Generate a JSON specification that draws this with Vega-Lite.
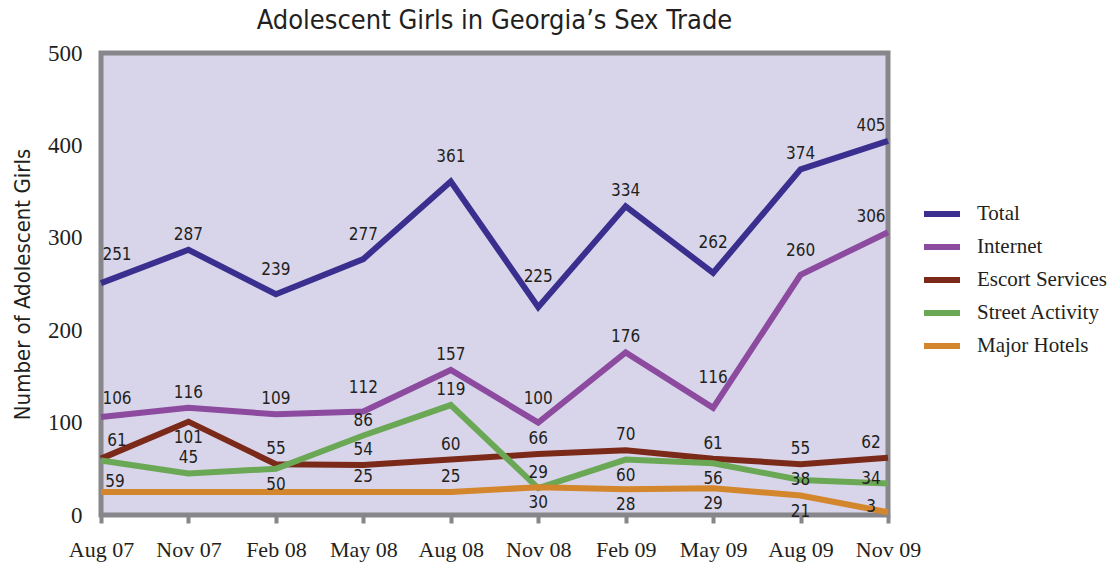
{
  "$schema": "https://vega.github.io/schema/vega-lite/v6.json",
  "width": 787,
  "height": 462,
  "autosize": {"type": "none"},
  "padding": {"left": 101, "top": 53, "right": 229, "bottom": 52},
  "background": "white",
  "title": {
    "text": "Adolescent Girls in Georgia’s Sex Trade",
    "font": "DejaVu Sans Condensed, sans-serif",
    "fontSize": 27,
    "fontWeight": "normal",
    "color": "#231f20",
    "anchor": "middle",
    "frame": "group",
    "baseline": "bottom",
    "offset": 15,
    "dy": 35
  },
  "config": {
    "view": {"fill": "#d8d5ea", "stroke": "#87868b", "strokeWidth": 5},
    "text": {"font": "DejaVu Sans Condensed, sans-serif", "fontSize": 17, "color": "#231f20", "baseline": "middle", "align": "center"}
  },
  "data": {
    "values": [
      {"month": "Aug 07", "series": "Total", "value": 251},
      {"month": "Nov 07", "series": "Total", "value": 287},
      {"month": "Feb 08", "series": "Total", "value": 239},
      {"month": "May 08", "series": "Total", "value": 277},
      {"month": "Aug 08", "series": "Total", "value": 361},
      {"month": "Nov 08", "series": "Total", "value": 225},
      {"month": "Feb 09", "series": "Total", "value": 334},
      {"month": "May 09", "series": "Total", "value": 262},
      {"month": "Aug 09", "series": "Total", "value": 374},
      {"month": "Nov 09", "series": "Total", "value": 405},
      {"month": "Aug 07", "series": "Internet", "value": 106},
      {"month": "Nov 07", "series": "Internet", "value": 116},
      {"month": "Feb 08", "series": "Internet", "value": 109},
      {"month": "May 08", "series": "Internet", "value": 112},
      {"month": "Aug 08", "series": "Internet", "value": 157},
      {"month": "Nov 08", "series": "Internet", "value": 100},
      {"month": "Feb 09", "series": "Internet", "value": 176},
      {"month": "May 09", "series": "Internet", "value": 116},
      {"month": "Aug 09", "series": "Internet", "value": 260},
      {"month": "Nov 09", "series": "Internet", "value": 306},
      {"month": "Aug 07", "series": "Escort Services", "value": 61},
      {"month": "Nov 07", "series": "Escort Services", "value": 101},
      {"month": "Feb 08", "series": "Escort Services", "value": 55},
      {"month": "May 08", "series": "Escort Services", "value": 54},
      {"month": "Aug 08", "series": "Escort Services", "value": 60},
      {"month": "Nov 08", "series": "Escort Services", "value": 66},
      {"month": "Feb 09", "series": "Escort Services", "value": 70},
      {"month": "May 09", "series": "Escort Services", "value": 61},
      {"month": "Aug 09", "series": "Escort Services", "value": 55},
      {"month": "Nov 09", "series": "Escort Services", "value": 62},
      {"month": "Aug 07", "series": "Street Activity", "value": 59},
      {"month": "Nov 07", "series": "Street Activity", "value": 45},
      {"month": "Feb 08", "series": "Street Activity", "value": 50},
      {"month": "May 08", "series": "Street Activity", "value": 86},
      {"month": "Aug 08", "series": "Street Activity", "value": 119},
      {"month": "Nov 08", "series": "Street Activity", "value": 29},
      {"month": "Feb 09", "series": "Street Activity", "value": 60},
      {"month": "May 09", "series": "Street Activity", "value": 56},
      {"month": "Aug 09", "series": "Street Activity", "value": 38},
      {"month": "Nov 09", "series": "Street Activity", "value": 34},
      {"month": "Aug 07", "series": "Major Hotels", "value": 25},
      {"month": "Nov 07", "series": "Major Hotels", "value": 25},
      {"month": "Feb 08", "series": "Major Hotels", "value": 25},
      {"month": "May 08", "series": "Major Hotels", "value": 25},
      {"month": "Aug 08", "series": "Major Hotels", "value": 25},
      {"month": "Nov 08", "series": "Major Hotels", "value": 30},
      {"month": "Feb 09", "series": "Major Hotels", "value": 28},
      {"month": "May 09", "series": "Major Hotels", "value": 29},
      {"month": "Aug 09", "series": "Major Hotels", "value": 21},
      {"month": "Nov 09", "series": "Major Hotels", "value": 3}
    ]
  },
  "encoding": {
    "x": {
      "field": "month",
      "type": "ordinal",
      "sort": ["Aug 07", "Nov 07", "Feb 08", "May 08", "Aug 08", "Nov 08", "Feb 09", "May 09", "Aug 09", "Nov 09"],
      "scale": {"type": "point", "padding": 0},
      "axis": {
        "title": null,
        "domain": false,
        "ticks": true,
        "tickColor": "#87868b",
        "tickWidth": 4,
        "tickSize": 8,
        "labelAngle": 0,
        "labelFont": "Liberation Serif, serif",
        "labelFontSize": 22,
        "labelColor": "#231f20",
        "labelPadding": 16
      }
    },
    "y": {
      "field": "value",
      "type": "quantitative",
      "scale": {"domain": [0, 500], "nice": false},
      "axis": {
        "title": "Number of Adolescent Girls",
        "titleFont": "DejaVu Sans Condensed, sans-serif",
        "titleFontSize": 22,
        "titleFontWeight": "normal",
        "titleColor": "#231f20",
        "titlePadding": 13,
        "values": [0, 100, 200, 300, 400, 500],
        "domain": false,
        "ticks": false,
        "tickSize": 0,
        "grid": false,
        "labelFont": "Liberation Serif, serif",
        "labelFontSize": 23,
        "labelColor": "#231f20",
        "labelPadding": 19
      }
    }
  },
  "layer": [
    {
      "mark": {"type": "line", "strokeWidth": 6, "strokeJoin": "miter"},
      "encoding": {
        "color": {
          "field": "series",
          "type": "nominal",
          "scale": {
            "domain": ["Total", "Internet", "Escort Services", "Street Activity", "Major Hotels"],
            "range": ["#3a2f8f", "#8c4b9f", "#7b2a1a", "#6ba856", "#d3862c"]
          },
          "legend": {
            "title": null,
            "orient": "none",
            "legendX": 820,
            "legendY": 140,
            "symbolType": "stroke",
            "symbolSize": 1296,
            "symbolStrokeWidth": 6,
            "labelFont": "Liberation Serif, serif",
            "labelFontSize": 21,
            "labelColor": "#231f20",
            "labelOffset": 14,
            "rowPadding": -4,
            "padding": 0
          }
        }
      }
    },
    {
      "transform": [{"filter": "(datum.series === 'Total' && indexof(['Nov 08', 'May 09'], datum.month) >= 0) || (datum.series === 'Internet' && datum.month === 'May 09')"}],
      "mark": {"type": "text", "dy": -30},
      "encoding": {"text": {"field": "value", "type": "quantitative"}}
    },
    {
      "transform": [{"filter": "(datum.series === 'Total' && indexof(['Feb 08', 'May 08', 'Aug 08'], datum.month) >= 0) || (datum.series === 'Internet' && indexof(['May 08', 'Nov 08', 'Aug 09'], datum.month) >= 0)"}],
      "mark": {"type": "text", "dy": -24},
      "encoding": {"text": {"field": "value", "type": "quantitative"}}
    },
    {
      "transform": [{"filter": "(datum.series === 'Total' && indexof(['Nov 07', 'Feb 09', 'Aug 09'], datum.month) >= 0) || (datum.series === 'Internet' && indexof(['Nov 07', 'Feb 08', 'Aug 08', 'Feb 09'], datum.month) >= 0) || (datum.series === 'Escort Services' && indexof(['Feb 08', 'May 08', 'Aug 08', 'Nov 08', 'Feb 09', 'May 09', 'Aug 09'], datum.month) >= 0) || (datum.series === 'Street Activity' && indexof(['Nov 07', 'May 08', 'Aug 08', 'Nov 08'], datum.month) >= 0) || (datum.series === 'Major Hotels' && indexof(['May 08', 'Aug 08'], datum.month) >= 0)"}],
      "mark": {"type": "text", "dy": -15},
      "encoding": {"text": {"field": "value", "type": "quantitative"}}
    },
    {
      "transform": [{"filter": "(datum.series === 'Escort Services' && datum.month === 'Nov 07') || (datum.series === 'Street Activity' && indexof(['Feb 08', 'Feb 09', 'May 09'], datum.month) >= 0) || (datum.series === 'Major Hotels' && indexof(['Nov 08', 'Feb 09', 'May 09', 'Aug 09'], datum.month) >= 0)"}],
      "mark": {"type": "text", "dy": 16},
      "encoding": {"text": {"field": "value", "type": "quantitative"}}
    },
    {
      "transform": [{"filter": "datum.series === 'Street Activity' && datum.month === 'Aug 09'"}],
      "mark": {"type": "text", "dy": 0},
      "encoding": {"text": {"field": "value", "type": "quantitative"}}
    },
    {
      "transform": [{"filter": "datum.month === 'Aug 07' && indexof(['Internet', 'Escort Services'], datum.series) >= 0"}],
      "mark": {"type": "text", "dx": 16, "dy": -18},
      "encoding": {"text": {"field": "value", "type": "quantitative"}}
    },
    {
      "transform": [{"filter": "datum.month === 'Aug 07' && datum.series === 'Total'"}],
      "mark": {"type": "text", "dx": 16, "dy": -28},
      "encoding": {"text": {"field": "value", "type": "quantitative"}}
    },
    {
      "transform": [{"filter": "datum.month === 'Aug 07' && datum.series === 'Street Activity'"}],
      "mark": {"type": "text", "dx": 14, "dy": 22},
      "encoding": {"text": {"field": "value", "type": "quantitative"}}
    },
    {
      "transform": [{"filter": "datum.month === 'Nov 09' && indexof(['Total', 'Internet', 'Escort Services'], datum.series) >= 0"}],
      "mark": {"type": "text", "dx": -17, "dy": -15},
      "encoding": {"text": {"field": "value", "type": "quantitative"}}
    },
    {
      "transform": [{"filter": "datum.month === 'Nov 09' && indexof(['Street Activity', 'Major Hotels'], datum.series) >= 0"}],
      "mark": {"type": "text", "dx": -17, "dy": -5},
      "encoding": {"text": {"field": "value", "type": "quantitative"}}
    }
  ]
}
